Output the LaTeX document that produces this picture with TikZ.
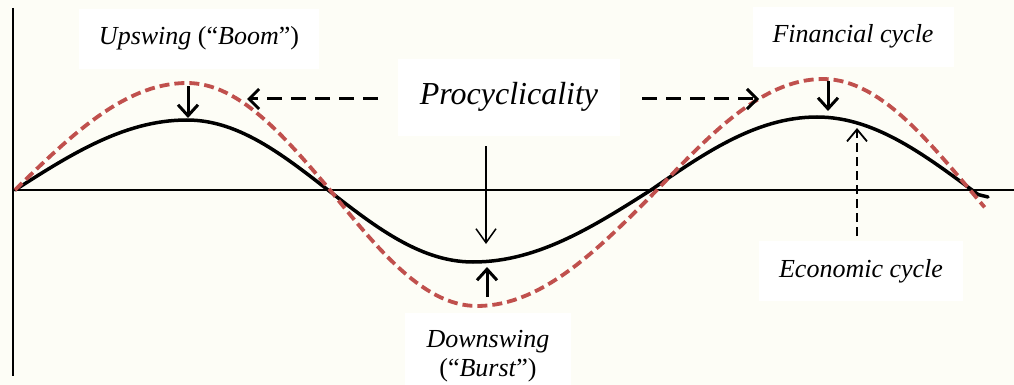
\documentclass[tikz,border=0pt]{standalone}
\usepackage{fontspec}
\setmainfont{Liberation Serif}
\usetikzlibrary{arrows.meta}
\definecolor{fincol}{RGB}{192,80,77}
\definecolor{bgcol}{RGB}{253,253,246}
\begin{document}
\begin{tikzpicture}[x=1pt,y=-1pt,
  axis/.style={line width=2pt},
  econ/.style={line width=3.5pt, line join=round, line cap=round},
  fin/.style={line width=3.8pt, fincol, dash pattern=on 10pt off 5pt},
  bigarrow/.style={line width=3pt, -{Straight Barb[length=11pt,width=20pt]}},
  dasharrow/.style={line width=3pt, dash pattern=on 15pt off 9pt, -{Straight Barb[length=10pt,width=20pt]}},
  thinarrow/.style={line width=1.5pt, -{Straight Barb[length=14pt,width=20pt]}},
  thindash/.style={line width=1.8pt, dash pattern=on 9pt off 5pt, -{Straight Barb[length=12pt,width=20pt]}},
  lbl/.style={fill=white, inner xsep=20pt, inner ysep=18pt, text height=18pt, text depth=6pt, font=\fontsize{26}{29}\selectfont},
  biglbl/.style={fill=white, inner xsep=22pt, inner ysep=24pt, text height=22pt, text depth=7pt, font=\fontsize{32}{36}\selectfont}]
\useasboundingbox (0,0) rectangle (1014,385);
\fill[bgcol] (0,0) rectangle (1014,385);
% axes
\coordinate (ytop) at (13,8);
\coordinate (ybot) at (13,376);
\coordinate (xleft) at (13,190);
\coordinate (xright) at (1014,190);
\draw[axis] (ytop) -- (ybot);
\draw[axis] (xleft) -- (xright);
% economic cycle (black)
\coordinate (eend) at (988,197);
\draw[econ]
  plot[domain=0:1,samples=30] ({15+172*\x},{190-70*sin(90*\x)})
  -- plot[domain=0:1,samples=30] ({187+141*\x},{190-70*cos(90*\x)})
  -- plot[domain=0:1,samples=30] ({328+145*\x},{190+72*sin(90*\x)})
  -- plot[domain=0:1,samples=30] ({473+178*\x},{190+72*cos(90*\x)})
  -- plot[domain=0:1,samples=30] ({651+166*\x},{190-73*sin(90*\x)})
  -- plot[domain=0:1.04,samples=30] ({817+155*\x},{190-73*cos(90*\x)})
  -- (eend);
% financial cycle (red dashed)
\draw[fin]
  plot[domain=0:1,samples=30] ({15+172*\x},{190-107*sin(90*\x)})
  -- plot[domain=0:1,samples=30] ({187+143*\x},{190-107*cos(90*\x)})
  -- plot[domain=0:1,samples=30] ({330+147*\x},{190+116*sin(90*\x)})
  -- plot[domain=0:1,samples=30] ({477+180*\x},{190+116*cos(90*\x)})
  -- plot[domain=0:1,samples=30] ({657+166*\x},{190-111*sin(90*\x)})
  -- plot[domain=0:1.1,samples=30] ({823+147*\x},{190-111*cos(90*\x)});
% labels
\node[lbl] (up) at (199,39) {\textit{Upswing} (“\textit{Boom}”)};
\node[lbl] (fin) at (853,37) {\textit{Financial cycle}};
\node[lbl] (eco) at (861,271) {\textit{Economic cycle}};
\node[biglbl] (proc) at (509,97.5) {\textit{Procyclicality}};
\node[fill=white, inner xsep=22pt, inner ysep=17pt, align=center, anchor=north,
      font=\fontsize{26}{29}\selectfont] (down) at (488,313) {\textit{Downswing}\\(“\textit{Burst}”)};
% arrow end points
\coordinate (ua) at (188,86);
\coordinate (ub) at (188,118);
\coordinate (fa) at (828,81);
\coordinate (fb) at (828,111);
\coordinate (da) at (487,297);
\coordinate (db) at (487,267);
\coordinate (pa) at (486,146);
\coordinate (pb) at (486,244);
\coordinate (la) at (378,99);
\coordinate (lb) at (247,99);
\coordinate (ra) at (642,99);
\coordinate (rb) at (759,99);
\coordinate (ea) at (857,236);
\coordinate (eb) at (857,128);
% arrows
\draw[bigarrow] (ua) -- (ub);
\draw[bigarrow] (fa) -- (fb);
\draw[bigarrow] (da) -- (db);
\draw[thinarrow] (pa) -- (pb);
\draw[dasharrow] (la) -- (lb);
\draw[dasharrow] (ra) -- (rb);
\draw[thindash] (ea) -- (eb);
\end{tikzpicture}
\end{document}
